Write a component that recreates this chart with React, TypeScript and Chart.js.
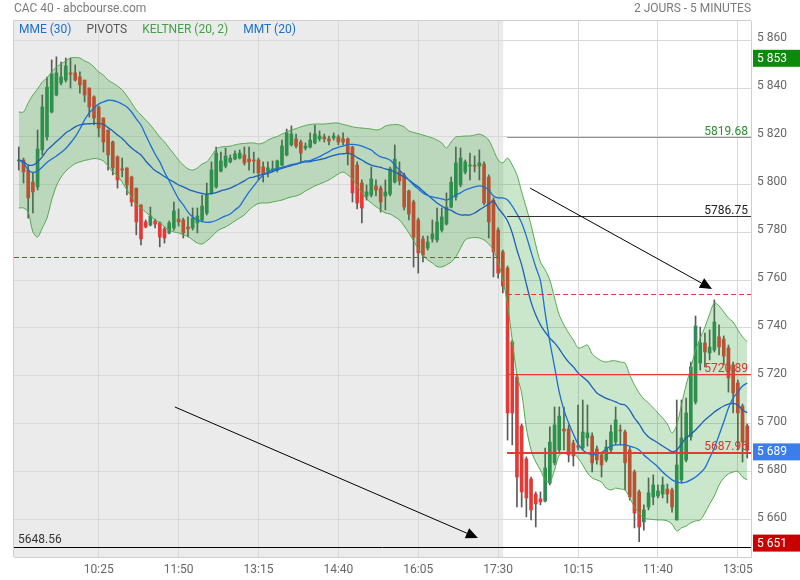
import React, { useEffect, useRef } from "react";
import { Chart, registerables } from "chart.js";

Chart.register(...registerables);

// ---------- data ----------
const tickIdx = [17, 34, 51, 68, 85, 102, 119, 136, 153];
const tickLabels = ["10:25", "11:50", "13:15", "14:40", "16:05", "17:30", "10:15", "11:40", "13:05"];
const yTicks = [5660, 5680, 5700, 5720, 5740, 5760, 5780, 5800, 5820, 5840, 5860];

const opens = [
  5809.6, 5810.0, 5805.8, 5800.8, 5798.8, 5814.2, 5819.6, 5830.0, 5837.1, 5842.1,
  5843.3, 5846.3, 5846.3, 5844.6, 5843.3, 5840.0, 5836.3, 5832.1, 5827.5, 5822.5,
  5817.5, 5811.3, 5806.3, 5806.7, 5802.9, 5798.3, 5791.3, 5784.2, 5782.9, 5784.6,
  5783.8, 5781.3, 5779.6, 5781.7, 5785.4, 5785.0, 5782.1, 5781.7, 5783.8, 5785.0,
  5787.9, 5796.3, 5798.8, 5805.4, 5807.5, 5809.2, 5810.4, 5810.8, 5812.1, 5810.4,
  5810.0, 5810.0, 5807.1, 5805.4, 5805.8, 5805.8, 5807.9, 5812.1, 5816.3, 5818.8,
  5817.5, 5815.0, 5815.4, 5817.1, 5818.8, 5819.6, 5818.8, 5819.2, 5819.6, 5818.8,
  5818.8, 5815.4, 5807.9, 5800.4, 5795.0, 5795.4, 5799.2, 5798.3, 5795.0, 5795.8,
  5800.8, 5805.4, 5803.8, 5797.1, 5792.5, 5785.0, 5777.1, 5773.3, 5777.1, 5776.7,
  5780.8, 5783.3, 5790.4, 5794.6, 5799.6, 5805.0, 5807.5, 5807.5, 5807.5, 5808.3,
  5802.9, 5793.3, 5780.8, 5771.7, 5765.0, 5734.2, 5719.6, 5699.2, 5685.4, 5677.1,
  5670.8, 5668.8, 5667.9, 5675.4, 5683.8, 5689.2, 5697.9, 5697.9, 5692.1, 5690.8,
  5690.0, 5694.2, 5695.0, 5689.6, 5687.1, 5685.0, 5689.2, 5692.5, 5697.5, 5696.7,
  5689.2, 5680.0, 5671.7, 5659.2, 5665.4, 5669.6, 5670.0, 5670.8, 5672.9, 5672.5,
  5660.0, 5676.7, 5685.0, 5694.6, 5709.2, 5725.4, 5733.8, 5729.6, 5730.8, 5736.3,
  5735.4, 5731.7, 5724.6, 5717.1, 5707.5, 5699.2,
];
const highs = [
  5815.4, 5810.8, 5807.9, 5804.6, 5822.5, 5837.1, 5844.6, 5851.7, 5853.0, 5850.8,
  5852.5, 5852.5, 5849.6, 5846.7, 5843.3, 5840.0, 5836.7, 5832.5, 5827.5, 5822.5,
  5817.9, 5811.7, 5810.8, 5806.7, 5803.3, 5798.3, 5791.3, 5785.0, 5790.4, 5785.4,
  5784.2, 5782.1, 5784.6, 5792.5, 5789.6, 5785.8, 5786.3, 5790.0, 5790.0, 5795.4,
  5800.4, 5809.2, 5815.4, 5813.3, 5815.0, 5812.1, 5813.8, 5814.2, 5815.4, 5815.4,
  5813.3, 5810.8, 5809.2, 5809.2, 5809.6, 5810.0, 5818.3, 5822.9, 5824.2, 5820.8,
  5818.3, 5817.1, 5821.3, 5824.6, 5822.1, 5820.8, 5820.0, 5821.3, 5820.4, 5821.3,
  5819.2, 5815.8, 5809.2, 5801.7, 5799.6, 5807.1, 5801.7, 5799.2, 5801.7, 5807.1,
  5816.3, 5809.2, 5804.6, 5797.5, 5793.3, 5785.8, 5778.3, 5778.3, 5785.0, 5790.0,
  5790.0, 5796.3, 5802.9, 5815.4, 5815.0, 5810.0, 5812.9, 5811.7, 5814.2, 5809.2,
  5803.8, 5794.2, 5781.7, 5772.5, 5765.8, 5735.0, 5720.4, 5700.0, 5686.3, 5677.9,
  5671.7, 5671.7, 5690.0, 5698.8, 5707.1, 5707.1, 5707.1, 5699.6, 5693.3, 5707.9,
  5710.0, 5707.9, 5696.3, 5690.8, 5688.3, 5693.3, 5699.6, 5707.1, 5699.6, 5697.5,
  5690.4, 5680.8, 5672.5, 5666.3, 5677.5, 5678.8, 5674.6, 5677.9, 5675.0, 5673.3,
  5710.0, 5710.0, 5710.8, 5725.8, 5745.0, 5740.4, 5737.9, 5739.2, 5751.7, 5741.3,
  5736.7, 5732.9, 5725.8, 5718.3, 5708.3, 5700.0,
];
const lows = [
  5805.8, 5800.4, 5785.8, 5787.9, 5797.5, 5812.1, 5818.3, 5829.6, 5836.7, 5841.3,
  5842.5, 5840.0, 5842.9, 5837.9, 5834.2, 5827.9, 5824.6, 5819.6, 5813.3, 5805.8,
  5803.8, 5798.3, 5803.0, 5795.4, 5790.8, 5778.8, 5774.6, 5781.7, 5782.5, 5781.7,
  5773.8, 5775.4, 5779.2, 5780.8, 5782.5, 5777.5, 5777.9, 5780.8, 5779.6, 5784.2,
  5787.1, 5795.8, 5798.3, 5805.0, 5806.7, 5808.8, 5810.0, 5810.4, 5807.9, 5805.8,
  5804.6, 5801.7, 5800.8, 5802.9, 5805.0, 5805.0, 5807.5, 5811.7, 5815.8, 5815.0,
  5809.2, 5814.2, 5815.0, 5816.7, 5817.9, 5817.5, 5816.3, 5818.3, 5816.3, 5816.3,
  5807.9, 5792.5, 5789.6, 5783.8, 5793.3, 5794.6, 5795.0, 5788.3, 5789.2, 5795.0,
  5800.4, 5799.6, 5789.2, 5785.0, 5765.4, 5762.9, 5767.5, 5772.5, 5775.8, 5775.8,
  5780.0, 5782.9, 5790.0, 5793.3, 5798.8, 5804.2, 5801.7, 5805.0, 5801.7, 5791.3,
  5777.5, 5761.3, 5760.8, 5754.6, 5693.3, 5691.3, 5665.4, 5665.4, 5661.3, 5660.0,
  5657.1, 5666.3, 5667.5, 5674.6, 5682.9, 5688.3, 5689.2, 5684.2, 5682.5, 5689.2,
  5689.2, 5690.8, 5680.0, 5683.3, 5677.9, 5684.2, 5688.3, 5691.3, 5691.3, 5672.5,
  5668.3, 5656.7, 5651.0, 5655.8, 5664.2, 5666.3, 5669.2, 5669.2, 5667.1, 5663.3,
  5660.0, 5675.4, 5684.2, 5693.3, 5708.3, 5722.5, 5723.8, 5726.7, 5730.0, 5728.8,
  5724.6, 5713.3, 5704.6, 5689.2, 5684.2, 5685.8,
];
const closes = [
  5810.0, 5805.0, 5794.2, 5796.7, 5814.6, 5832.1, 5840.4, 5845.8, 5846.3, 5844.6,
  5849.2, 5845.8, 5843.3, 5841.3, 5837.1, 5832.1, 5827.5, 5823.3, 5817.5, 5812.1,
  5806.7, 5801.7, 5805.8, 5799.6, 5792.5, 5784.2, 5777.1, 5782.1, 5786.7, 5783.3,
  5777.9, 5777.5, 5783.8, 5788.8, 5784.2, 5779.6, 5781.3, 5785.8, 5786.7, 5790.8,
  5795.8, 5805.8, 5812.9, 5809.6, 5811.7, 5810.8, 5812.5, 5812.9, 5808.8, 5809.2,
  5809.6, 5804.6, 5804.2, 5806.7, 5806.3, 5809.6, 5815.8, 5821.3, 5820.8, 5815.8,
  5812.9, 5815.8, 5818.3, 5820.8, 5820.0, 5818.8, 5817.9, 5820.0, 5817.5, 5817.5,
  5812.9, 5796.3, 5792.1, 5790.0, 5796.7, 5802.1, 5797.5, 5792.5, 5796.7, 5806.3,
  5810.4, 5801.3, 5790.4, 5787.5, 5777.9, 5771.3, 5770.4, 5775.8, 5779.2, 5784.2,
  5786.3, 5790.4, 5800.8, 5808.8, 5810.8, 5809.2, 5807.6, 5807.4, 5808.8, 5792.1,
  5784.2, 5771.7, 5762.9, 5757.5, 5704.6, 5704.6, 5677.9, 5671.7, 5669.2, 5664.2,
  5666.7, 5667.5, 5681.7, 5692.5, 5699.6, 5703.3, 5697.1, 5687.1, 5686.7, 5690.4,
  5696.7, 5696.3, 5683.8, 5685.0, 5682.9, 5690.4, 5696.7, 5701.7, 5697.1, 5683.8,
  5669.6, 5662.9, 5657.1, 5664.2, 5671.3, 5674.6, 5672.1, 5674.6, 5670.8, 5665.4,
  5682.9, 5694.2, 5704.6, 5723.8, 5740.8, 5733.8, 5730.0, 5732.1, 5742.5, 5732.1,
  5728.3, 5719.2, 5712.9, 5704.6, 5692.5, 5689.0,
];
const keltnerUpper = [
  5830.0, 5830.0, 5833.8, 5837.1, 5839.6, 5842.5, 5844.2, 5846.7, 5848.8, 5850.0,
  5851.3, 5852.5, 5852.7, 5852.5, 5851.3, 5850.4, 5848.8, 5846.7, 5845.4, 5843.3,
  5842.1, 5840.8, 5839.2, 5836.7, 5833.8, 5830.8, 5828.8, 5826.7, 5824.6, 5822.1,
  5819.6, 5817.5, 5815.0, 5812.5, 5810.0, 5807.9, 5806.3, 5805.8, 5806.7, 5808.3,
  5809.2, 5811.7, 5814.6, 5815.4, 5815.6, 5815.8, 5816.3, 5816.7, 5816.9, 5817.1,
  5817.1, 5816.7, 5817.1, 5818.3, 5819.2, 5819.8, 5820.8, 5821.7, 5822.5, 5823.1,
  5823.8, 5824.4, 5824.8, 5825.0, 5825.0, 5825.0, 5825.2, 5825.4, 5825.4, 5824.8,
  5824.4, 5823.8, 5823.5, 5823.3, 5823.1, 5822.9, 5822.5, 5822.9, 5824.2, 5824.6,
  5824.8, 5824.6, 5823.8, 5822.1, 5821.5, 5821.0, 5820.4, 5819.8, 5819.2, 5818.3,
  5817.1, 5815.0, 5817.5, 5819.6, 5819.8, 5820.0, 5820.0, 5820.4, 5820.8, 5820.0,
  5818.3, 5814.2, 5810.0, 5808.8, 5810.8, 5807.9, 5803.8, 5796.7, 5790.0, 5782.9,
  5774.6, 5767.5, 5764.2, 5760.0, 5752.5, 5745.4, 5741.3, 5737.9, 5735.0, 5731.7,
  5732.1, 5732.9, 5729.2, 5727.5, 5726.3, 5725.8, 5726.3, 5726.3, 5725.8, 5725.4,
  5720.4, 5716.3, 5712.9, 5710.4, 5708.8, 5706.7, 5704.6, 5702.5, 5700.0, 5696.3,
  5699.6, 5707.9, 5716.3, 5723.3, 5730.8, 5735.8, 5740.4, 5745.8, 5750.4, 5749.2,
  5746.7, 5744.2, 5742.5, 5739.2, 5736.3, 5734.2,
];
const keltnerLower = [
  5790.0, 5790.0, 5788.3, 5780.0, 5777.9, 5781.7, 5785.8, 5793.3, 5799.2, 5802.9,
  5805.4, 5807.1, 5808.5, 5809.2, 5809.8, 5810.2, 5810.6, 5810.4, 5809.6, 5807.5,
  5805.0, 5803.3, 5800.8, 5797.5, 5794.6, 5791.3, 5790.0, 5788.3, 5786.7, 5785.0,
  5783.8, 5782.1, 5780.8, 5780.0, 5779.6, 5778.8, 5778.1, 5776.7, 5775.4, 5775.0,
  5776.3, 5777.9, 5780.0, 5781.3, 5782.1, 5783.3, 5784.6, 5785.8, 5787.1, 5789.2,
  5790.8, 5791.9, 5792.1, 5792.1, 5792.5, 5792.9, 5793.3, 5794.0, 5794.6, 5795.0,
  5795.8, 5797.1, 5798.1, 5799.2, 5800.0, 5800.8, 5801.7, 5802.9, 5804.2, 5805.0,
  5803.8, 5802.1, 5799.2, 5796.3, 5793.8, 5792.1, 5790.6, 5789.2, 5787.9, 5787.5,
  5786.3, 5785.0, 5782.5, 5779.6, 5776.3, 5772.9, 5770.4, 5768.3, 5767.1, 5765.6,
  5765.4, 5766.3, 5767.5, 5769.6, 5773.3, 5776.7, 5777.5, 5777.7, 5777.5, 5776.7,
  5775.0, 5772.5, 5767.5, 5760.0, 5749.6, 5735.0, 5720.4, 5712.9, 5698.3, 5689.2,
  5684.2, 5680.8, 5676.7, 5675.8, 5680.8, 5687.1, 5687.9, 5688.3, 5687.9, 5685.8,
  5682.9, 5679.6, 5677.5, 5676.7, 5675.8, 5673.3, 5672.5, 5673.3, 5672.9, 5672.5,
  5669.2, 5665.4, 5662.9, 5660.8, 5660.4, 5660.2, 5660.0, 5660.0, 5659.6, 5658.3,
  5655.4, 5656.7, 5657.5, 5658.8, 5659.6, 5660.0, 5662.9, 5666.7, 5670.0, 5674.6,
  5677.5, 5679.2, 5680.0, 5680.2, 5677.9, 5676.7,
];
const mmt20 = [
  5810.0, 5808.8, 5805.8, 5804.8, 5805.4, 5807.1, 5809.0, 5810.4, 5811.7, 5813.1,
  5814.8, 5817.1, 5819.6, 5822.9, 5826.7, 5829.6, 5831.7, 5833.3, 5834.2, 5834.9,
  5834.8, 5834.2, 5833.3, 5832.1, 5830.0, 5827.1, 5824.6, 5820.4, 5816.3, 5812.5,
  5809.2, 5805.0, 5801.3, 5797.5, 5793.8, 5791.3, 5788.3, 5786.3, 5785.0, 5784.4,
  5784.0, 5784.2, 5784.8, 5785.8, 5786.7, 5787.5, 5789.2, 5790.8, 5793.8, 5796.7,
  5799.2, 5801.7, 5803.8, 5805.0, 5805.8, 5806.5, 5806.9, 5807.5, 5808.1, 5808.5,
  5809.0, 5809.6, 5809.7, 5810.6, 5811.4, 5812.5, 5813.5, 5814.6, 5815.3, 5815.8,
  5816.5, 5816.5, 5816.3, 5815.8, 5815.0, 5814.2, 5812.5, 5811.3, 5810.8, 5810.0,
  5807.9, 5805.8, 5803.8, 5801.7, 5799.6, 5797.9, 5796.3, 5795.2, 5794.6, 5794.2,
  5793.8, 5793.3, 5794.2, 5795.4, 5796.3, 5797.5, 5798.2, 5798.8, 5799.2, 5798.8,
  5797.5, 5795.0, 5794.2, 5794.2, 5793.3, 5790.8, 5787.5, 5783.8, 5778.3, 5771.7,
  5765.4, 5759.6, 5746.3, 5734.2, 5723.8, 5713.3, 5705.8, 5700.4, 5695.8, 5691.7,
  5689.2, 5687.9, 5687.1, 5687.5, 5688.0, 5689.6, 5690.8, 5691.3, 5691.3, 5691.3,
  5690.8, 5690.2, 5689.2, 5687.1, 5685.4, 5683.8, 5682.1, 5680.0, 5678.3, 5676.7,
  5675.8, 5675.5, 5675.8, 5676.7, 5677.9, 5679.6, 5681.7, 5685.8, 5690.0, 5695.4,
  5700.8, 5706.7, 5710.8, 5713.3, 5715.8, 5717.1,
];
const mme30 = [
  5810.0, 5809.3, 5807.9, 5807.9, 5809.2, 5811.3, 5814.0, 5815.8, 5817.7, 5819.4,
  5821.3, 5822.5, 5823.8, 5824.6, 5825.0, 5825.1, 5825.3, 5825.2, 5824.9, 5823.5,
  5822.1, 5820.4, 5819.0, 5816.9, 5815.0, 5813.5, 5812.1, 5809.6, 5807.5, 5805.6,
  5804.4, 5803.1, 5801.9, 5800.8, 5799.6, 5798.8, 5797.9, 5797.1, 5796.5, 5796.1,
  5795.8, 5796.0, 5796.4, 5797.1, 5797.7, 5798.3, 5799.2, 5800.2, 5801.3, 5802.5,
  5802.9, 5803.5, 5804.0, 5804.4, 5805.2, 5805.9, 5806.5, 5807.1, 5807.7, 5808.2,
  5808.8, 5809.2, 5809.3, 5809.8, 5810.2, 5810.6, 5811.3, 5811.9, 5812.4, 5812.6,
  5812.8, 5812.3, 5811.0, 5810.0, 5808.8, 5807.9, 5807.3, 5806.9, 5806.3, 5805.8,
  5805.0, 5804.0, 5802.9, 5801.7, 5800.2, 5798.8, 5797.1, 5795.4, 5793.8, 5792.1,
  5790.8, 5789.6, 5789.0, 5787.9, 5787.1, 5787.1, 5787.1, 5787.9, 5789.2, 5790.4,
  5791.7, 5792.9, 5790.0, 5787.5, 5784.6, 5779.6, 5772.5, 5766.3, 5758.3, 5750.8,
  5745.4, 5741.3, 5738.3, 5735.8, 5733.8, 5731.3, 5728.3, 5725.8, 5723.8, 5721.3,
  5719.6, 5717.9, 5715.4, 5712.9, 5711.7, 5710.7, 5710.0, 5709.2, 5708.3, 5707.9,
  5705.8, 5702.5, 5700.0, 5696.7, 5694.6, 5693.3, 5692.1, 5690.8, 5689.6, 5688.5,
  5689.2, 5691.7, 5694.2, 5695.8, 5697.5, 5699.6, 5701.7, 5703.3, 5705.0, 5706.3,
  5707.5, 5708.3, 5708.6, 5707.9, 5705.8, 5704.7,
];

// pivots and annotation levels
const pivotValues = [5819.68, 5786.75, 5754.3, 5720.89, 5687.96];
const pivotLabels = ["5819.68", "5786.75", "", "5720.89", "5687.96"];
const previousLevel = 5769.6;
const supportLevel = 5648.56;
const badgeValues = [5853, 5689, 5651];
const dayOneEnd = 103.1;
const pivotStart = 103.9;
const arrowFromX = [33.2, 108.8];
const arrowFromY = [5707.1, 5798.3];
const arrowToX = [97.7, 147.5];
const arrowToY = [5652.5, 5756.3];

const X_MIN = -1.02;
const X_MAX = 155.8;
const Y_MIN = 5644.58;
const Y_MAX = 5867.92;

// ---------- styles ----------
const FONT = "Roboto, 'Open Sans', sans-serif";
const GREEN = "#2f8a57";
const RED = "#e53935";
const GRID = "#d9d9d9";

const fmtSpace = (v: number) => {
  const s = Math.round(v).toString();
  return s.slice(0, s.length - 3) + " " + s.slice(-3);
};

const bgPlugin = {
  id: "bgPlugin",
  beforeDraw(chart: any) {
    const { ctx, chartArea: a, scales } = chart;
    ctx.save();
    ctx.fillStyle = "#fff";
    ctx.fillRect(0, 0, chart.width, chart.height);
    ctx.fillStyle = "#ebebeb";
    const xe = scales.x.getPixelForValue(dayOneEnd);
    ctx.fillRect(a.left, a.top, xe - a.left, a.bottom - a.top);
    ctx.restore();
  },
};

const overlayPlugin = {
  id: "overlayPlugin",
  afterDatasetsDraw(chart: any) {
    const { ctx, chartArea: a, scales } = chart;
    const x = scales.x;
    const y = scales.y;
    ctx.save();
    ctx.beginPath();
    ctx.rect(a.left, a.top, a.right - a.left, a.bottom - a.top);
    ctx.clip();

    const hLine = (v: number, x0: number, x1: number, color: string, w: number, dash: number[]) => {
      const py = Math.round(y.getPixelForValue(v)) + (w % 2 === 1 ? 0.5 : 0);
      ctx.beginPath();
      ctx.setLineDash(dash);
      ctx.strokeStyle = color;
      ctx.lineWidth = w;
      ctx.moveTo(x0, py);
      ctx.lineTo(x1, py);
      ctx.stroke();
      ctx.setLineDash([]);
      return py;
    };
    const xs = x.getPixelForValue(pivotStart);
    const dayEndPx = x.getPixelForValue(dayOneEnd);

    // previous day level (dashed, day 1 only)
    hLine(previousLevel, a.left, dayEndPx, "#a04a44", 1, [5, 3]);

    const lineColors = ["#8f8f8f", "#333333", RED, RED, RED];
    const lineWidths = [1, 1, 1, 1, 2];
    const labelColors = ["#2e8b2e", "#222222", RED, "#d9352f", "#d9352f"];
    ctx.font = `12px ${FONT}`;
    ctx.textAlign = "right";
    ctx.textBaseline = "alphabetic";
    pivotValues.forEach((v, i) => {
      const py = hLine(v, xs, a.right, lineColors[i], lineWidths[i], i === 2 ? [5, 3] : []);
      if (pivotLabels[i]) {
        ctx.fillStyle = labelColors[i];
        ctx.fillText(pivotLabels[i], a.right - 3, py - 3);
      }
    });

    // support line full width
    const sy = hLine(supportLevel, a.left, a.right, "#000", 1, []);
    ctx.fillStyle = "#333";
    ctx.textAlign = "left";
    ctx.fillText(supportLevel.toFixed(2), a.left + 4, sy - 5);

    // arrows
    arrowFromX.forEach((_, i) => {
      const x0 = x.getPixelForValue(arrowFromX[i]);
      const y0 = y.getPixelForValue(arrowFromY[i]);
      const x1 = x.getPixelForValue(arrowToX[i]);
      const y1 = y.getPixelForValue(arrowToY[i]);
      const ang = Math.atan2(y1 - y0, x1 - x0);
      const L = 12;
      const W = 5.5;
      ctx.strokeStyle = "#000";
      ctx.lineWidth = 1;
      ctx.beginPath();
      ctx.moveTo(x0, y0);
      ctx.lineTo(x1 - L * Math.cos(ang), y1 - L * Math.sin(ang));
      ctx.stroke();
      ctx.fillStyle = "#000";
      ctx.beginPath();
      ctx.moveTo(x1, y1);
      const bx = x1 - L * Math.cos(ang);
      const by = y1 - L * Math.sin(ang);
      ctx.lineTo(bx + W * Math.sin(ang), by - W * Math.cos(ang));
      ctx.lineTo(bx - W * Math.sin(ang), by + W * Math.cos(ang));
      ctx.closePath();
      ctx.fill();
    });
    ctx.restore();
  },
  afterDraw(chart: any) {
    const { ctx, chartArea: a, scales } = chart;
    const y = scales.y;
    ctx.save();
    // top and left borders
    ctx.strokeStyle = "#cfcfcf";
    ctx.lineWidth = 1;
    ctx.beginPath();
    ctx.moveTo(a.left - 0.5, a.bottom);
    ctx.lineTo(a.left - 0.5, a.top - 0.5);
    ctx.lineTo(a.right, a.top - 0.5);
    ctx.stroke();

    // title texts
    ctx.font = `12px ${FONT}`;
    ctx.fillStyle = "#7a7a7a";
    ctx.textBaseline = "middle";
    ctx.textAlign = "left";
    ctx.fillText("CAC 40 - abcbourse.com", a.left, 9);
    ctx.textAlign = "right";
    ctx.fillText("2 JOURS - 5 MINUTES", a.right, 9);

    // legend row
    ctx.font = `12px ${FONT}`;
    ctx.textAlign = "left";
    const items: [string, string][] = [
      ["MME (30)", "#1a6fd0"],
      ["PIVOTS", "#555555"],
      ["KELTNER (20, 2)", "#43a047"],
      ["MMT (20)", "#1a6fd0"],
    ];
    let lx = a.left + 5;
    items.forEach(([t, c]) => {
      ctx.fillStyle = c;
      ctx.fillText(t, lx, a.top + 8.5);
      lx += ctx.measureText(t).width + 15;
    });

    // value badges on the right axis
    const badgeColors = ["#0d8a0d", "#3b7de9", "#c80000"];
    ctx.font = `12px ${FONT}`;
    badgeValues.forEach((v, i) => {
      const py = y.getPixelForValue(v) + 1.5;
      ctx.fillStyle = badgeColors[i];
      ctx.fillRect(a.right + 2, py - 8.5, chart.width - a.right - 2, 17);
      ctx.fillStyle = "#fff";
      ctx.textAlign = "left";
      ctx.fillText(fmtSpace(v), a.right + 6, py + 0.5);
    });
    ctx.restore();
  },
};

export default function App() {
  const ref = useRef<HTMLCanvasElement | null>(null);

  useEffect(() => {
    const canvas = ref.current;
    if (!canvas) return;
    Chart.defaults.font.family = FONT;
    const idx = closes.map((_, i) => i);
    const pts = (arr: number[]) => idx.map((i) => ({ x: i, y: arr[i] }));

    const chart = new Chart(canvas, {
      type: "bar",
      data: {
        datasets: [
          {
            type: "line",
            label: "upper",
            data: pts(keltnerUpper),
            borderColor: "#58ab52",
            borderWidth: 1,
            pointRadius: 0,
            tension: 0.3,
            fill: "+1",
            backgroundColor: "rgba(46,160,46,0.25)",
            order: 1,
          } as any,
          {
            type: "line",
            label: "lower",
            data: pts(keltnerLower),
            borderColor: "#58ab52",
            borderWidth: 1,
            pointRadius: 0,
            tension: 0.3,
            fill: false,
            order: 1,
          } as any,
          {
            type: "line",
            label: "MMT (20)",
            data: pts(mmt20),
            borderColor: "#1c6fd6",
            borderWidth: 1.3,
            pointRadius: 0,
            tension: 0.3,
            fill: false,
            order: 0,
          } as any,
          {
            type: "line",
            label: "MME (30)",
            data: pts(mme30),
            borderColor: "#1a60b8",
            borderWidth: 1.3,
            pointRadius: 0,
            tension: 0.3,
            fill: false,
            order: 0,
          } as any,
          {
            type: "bar",
            label: "wicks",
            data: idx.map((i) => ({ x: i, y: [lows[i], highs[i]] })),
            backgroundColor: "#5a5a5a",
            barThickness: 1,
            grouped: false,
            order: 4,
          } as any,
          {
            type: "bar",
            label: "bodies",
            data: idx.map((i) => ({ x: i, y: [opens[i], closes[i]] })),
            backgroundColor: idx.map((i) => (closes[i] >= opens[i] ? GREEN : RED)),
            barThickness: 3,
            minBarLength: 1,
            grouped: false,
            order: 3,
          } as any,
        ],
      },
      options: {
        responsive: false,
        devicePixelRatio: 1,
        animation: false,
        events: [],
        layout: { padding: { left: 14, top: 21, right: 0, bottom: 0 } },
        plugins: {
          legend: { display: false },
          tooltip: { enabled: false },
          title: { display: false },
        },
        scales: {
          x: {
            type: "linear",
            min: X_MIN,
            max: X_MAX,
            offset: false,
            grid: { color: GRID, drawTicks: false, offset: false },
            border: { display: true, color: "#cfcfcf" },
            ticks: {
              autoSkip: false,
              maxRotation: 0,
              padding: 6,
              color: "#666",
              font: { size: 12, family: FONT },
              callback: (_v: any, i: number) => tickLabels[i] ?? "",
            },
            afterBuildTicks: (s: any) => {
              s.ticks = tickIdx.map((v) => ({ value: v }));
            },
            afterFit: (s: any) => {
              s.height = 23;
            },
          },
          y: {
            type: "linear",
            position: "right",
            min: Y_MIN,
            max: Y_MAX,
            grid: { color: GRID, drawTicks: false },
            border: { display: true, color: "#cfcfcf" },
            ticks: {
              padding: 6,
              labelOffset: -2,
              color: "#666",
              font: { size: 12, family: FONT },
              callback: (v: any) => fmtSpace(Number(v)),
            },
            afterBuildTicks: (s: any) => {
              s.ticks = yTicks.map((v) => ({ value: v }));
            },
            afterFit: (s: any) => {
              s.width = 49;
            },
          },
        },
      } as any,
      plugins: [bgPlugin, overlayPlugin],
    });
    return () => chart.destroy();
  }, []);

  return (
    <div style={{ position: "absolute", left: 0, top: 0, width: 800, height: 580, background: "#fff" }}>
      <canvas ref={ref} width={800} height={580} style={{ display: "block", width: 800, height: 580 }} />
    </div>
  );
}
